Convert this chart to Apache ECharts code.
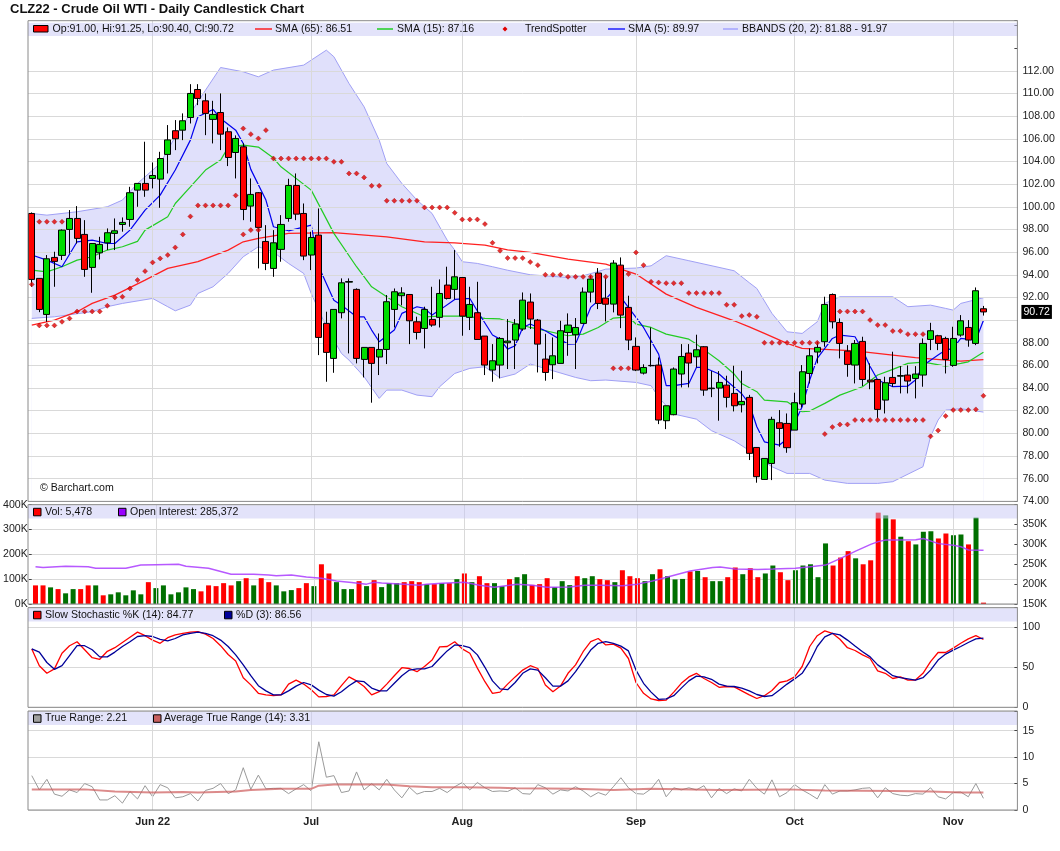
<!DOCTYPE html>
<html>
<head>
<meta charset="utf-8">
<style>
html,body{margin:0;padding:0;background:#fff;}
#chart{width:1060px;height:851px;}
</style>
</head>
<body>
<div id="chart"></div>
<script src="https://cdn.jsdelivr.net/npm/echarts/dist/echarts.min.js"></script>
<script type="text/javascript">
// trading days May 9 2022 .. Nov 7 2022 (127) + 4 empty days on the right
var holidays = ['2022-05-30', '2022-06-20', '2022-07-04', '2022-09-05'];
var dates = [];
(function () {
    var d = new Date(Date.UTC(2022, 4, 9));
    while (dates.length < 131) {
        var s = d.toISOString().slice(0, 10);
        if (d.getUTCDay() !== 0 && d.getUTCDay() !== 6 && holidays.indexOf(s) < 0) dates.push(s);
        d.setUTCDate(d.getUTCDate() + 1);
    }
})();
var monthIdx = [16, 37, 57, 80, 101, 122];
var monthLabels = ['Jun 22', 'Jul', 'Aug', 'Sep', 'Oct', 'Nov'];
var priceTicks = [76, 78, 80, 82, 84, 86, 88, 90, 92, 94, 96, 98, 100, 102, 104, 106, 108, 110, 112];
var lastPrice = 90.72;

var opens = [99.41,93.68,90.5,95.53,95.71,98.0,98.97,97.56,94.65,95.94,
96.82,97.65,98.44,98.88,101.47,102.06,102.5,102.44,104.62,106.71,
106.76,107.88,110.35,109.35,107.71,108.32,106.62,104.79,105.29,100.06,
101.24,96.94,94.56,96.24,98.97,101.88,99.41,95.74,97.5,89.71,
86.62,90.65,93.35,92.71,86.53,87.59,86.74,87.41,90.94,92.15,
92.26,89.85,89.26,90.06,90.24,93.09,92.71,93.76,90.24,90.65,
88.59,85.59,86.03,88.0,88.24,89.21,91.59,90.0,86.56,86.06,
86.18,88.91,88.71,89.71,92.47,94.15,91.94,91.41,94.85,91.12,
87.68,85.32,86.0,86.03,81.12,81.65,85.24,87.09,86.76,87.65,
83.95,84.0,84.26,83.53,82.53,83.18,78.76,75.94,77.35,80.94,
80.88,80.29,82.59,85.29,87.18,88.09,92.26,89.79,87.26,86.03,
88.12,84.7,84.76,82.94,84.94,85.05,85.15,84.85,85.15,88.29,
88.62,88.38,86.0,88.68,89.35,87.94,91.0];
var highs = [99.5,93.7,95.74,96.03,98.0,99.71,100.06,98.82,96.8,97.35,
98.09,98.97,99.06,101.76,102.06,105.74,103.91,104.85,107.21,107.65,
108.24,110.82,110.82,110.0,109.35,110.0,107.0,106.3,105.6,102.5,
101.3,98.38,97.94,99.26,102.47,102.94,100.29,97.79,99.85,90.74,
90.94,93.68,93.68,92.8,87.6,87.6,88.82,92.21,92.79,92.9,
92.3,90.3,91.18,92.94,93.59,94.71,96.18,93.8,92.94,93.38,
88.6,87.88,88.5,90.09,90.09,92.44,92.35,90.1,88.79,88.47,
89.94,90.59,90.18,92.88,93.91,94.59,93.76,95.29,95.53,92.15,
88.47,86.1,89.35,86.7,82.44,85.82,87.88,87.88,88.71,87.7,
85.5,85.5,85.09,85.97,85.53,83.4,78.8,77.8,81.47,82.06,
81.76,83.59,86.03,87.5,88.09,92.06,92.35,90.15,87.79,88.24,
88.53,86.18,84.8,85.0,87.21,85.94,86.0,85.94,88.38,89.76,
88.7,88.53,89.41,90.44,90.0,92.88,91.25];
var lows = [92.94,90.7,89.85,92.94,95.3,95.88,96.76,93.82,92.41,95.35,
96.18,96.18,97.8,98.24,100.0,100.88,101.62,99.91,102.94,105.0,
105.88,107.35,108.97,106.32,105.59,105.0,103.59,102.5,98.82,98.68,
94.56,94.41,93.82,95.15,98.68,98.82,95.29,94.41,86.91,84.56,
85.35,90.15,87.06,86.18,84.94,82.71,85.15,86.12,89.35,91.3,
87.88,88.29,87.5,89.41,89.35,91.82,91.82,88.62,89.12,88.29,
85.15,84.56,84.85,85.68,85.68,89.06,89.21,85.38,84.65,84.79,
86.18,86.85,85.68,89.7,91.56,90.97,89.88,90.68,89.29,87.35,
85.5,85.2,85.9,80.82,80.38,81.6,84.06,84.06,85.82,83.32,
83.2,81.12,82.29,81.94,81.85,77.65,75.65,75.9,75.88,78.82,
78.29,80.29,82.29,84.41,86.18,87.65,89.26,86.62,85.0,84.41,
84.18,83.9,81.32,81.76,84.12,83.53,83.53,83.09,84.12,87.35,
87.35,85.29,85.88,88.53,87.65,87.79,90.40];
var closes = [93.59,90.94,95.41,95.18,97.94,98.97,97.21,94.47,96.76,96.68,
97.71,97.88,98.62,101.24,102.06,101.47,102.76,104.26,105.9,106.0,
107.59,110.0,109.56,108.24,108.15,106.41,104.35,106.03,99.76,101.09,
98.18,95.0,96.82,98.44,101.88,99.35,95.65,97.29,88.47,87.15,
90.94,93.29,93.4,86.62,87.59,86.18,87.41,91.62,92.5,92.4,
89.94,88.91,90.94,89.56,92.35,91.91,93.82,90.35,91.38,88.29,
86.03,86.41,88.38,88.15,89.65,91.76,90.09,87.88,85.38,86.85,
89.06,89.56,89.35,92.47,93.62,91.47,91.4,95.03,90.44,88.24,
85.59,85.82,85.97,81.18,82.44,85.68,86.79,86.21,87.38,83.82,
84.0,84.5,83.18,82.44,82.82,78.24,76.18,77.79,81.24,80.44,
78.74,82.71,85.44,86.85,87.59,91.38,89.85,87.94,86.09,87.94,
84.76,84.55,82.12,84.47,84.4,85.1,84.62,85.24,87.94,89.06,
87.94,86.53,88.38,89.94,88.24,92.59,90.72];

// indicator lines as [day index, value]
var sma65 = [[0,89.56],[3,90.0],[6,90.74],[8,91.47],[11,92.21],[15,93.53],[18,94.56],[22,95.15],[26,96.18],[28,96.91],[30,97.21],[34,97.65],[40,97.71],[47,97.35],[52,96.91],[56,96.82],[60,96.62],[63,96.2],[66,95.97],[71,95.38],[76,94.94],[80,94.06],[84,92.29],[88,91.12],[93,89.94],[95,89.4],[97,88.82],[100,87.94],[102,87.5],[105,87.41],[109,87.29],[114,86.91],[117,86.68],[121,86.47],[123,86.38],[126,86.51]];
var sma15 = [[0,94.41],[2,94.26],[4,94.71],[6,95.29],[8,95.59],[10,96.18],[12,96.47],[14,96.95],[15,97.94],[18,99.12],[19,100.29],[21,101.76],[23,103.24],[25,104.12],[26,105.24],[28,105.44],[30,105.27],[32,104.3],[33,103.53],[37,101.47],[40,97.65],[43,94.71],[45,92.94],[47,92.06],[49,91.18],[52,90.29],[54,90.35],[57,90.35],[60,90.15],[62,90.1],[66,89.35],[71,88.62],[73,88.76],[75,89.35],[77,90.18],[79,90.29],[80,89.65],[82,89.35],[84,88.76],[87,88.32],[88,87.88],[91,86.41],[93,85.24],[94,84.41],[96,83.68],[97,82.94],[100,82.79],[102,81.91],[103,81.97],[105,82.65],[107,83.38],[110,84.12],[112,85.15],[114,85.65],[116,86.18],[118,86.29],[119,86.18],[121,85.94],[123,86.18],[124,86.32],[126,87.16]];
var sma5 = [[0,95.74],[2,95.29],[4,94.71],[6,96.91],[8,97.06],[10,96.76],[11,96.76],[13,97.94],[15,99.71],[17,101.03],[19,103.24],[21,105.88],[22,107.94],[24,108.59],[25,107.79],[27,106.76],[28,105.59],[29,103.3],[31,100.59],[32,98.24],[34,97.88],[37,98.38],[38,94.71],[40,91.76],[41,91.32],[43,90.29],[44,90.29],[45,89.12],[46,88.09],[48,89.12],[49,90.59],[51,91.18],[52,91.03],[53,90.44],[54,90.88],[56,91.82],[58,91.91],[59,90.8],[61,88.68],[62,88.32],[63,87.44],[64,87.74],[65,89.35],[66,89.65],[68,89.06],[71,87.88],[72,87.9],[73,89.5],[74,91.12],[75,91.71],[76,91.85],[77,92.59],[78,92.0],[79,91.12],[81,89.35],[83,87.0],[84,84.21],[85,84.21],[87,84.41],[88,85.82],[89,85.82],[91,85.24],[92,84.65],[94,83.5],[95,82.6],[96,80.59],[97,79.26],[99,78.97],[100,79.5],[102,82.35],[103,84.71],[104,86.62],[106,88.38],[107,88.68],[109,88.53],[110,87.35],[111,85.9],[112,84.71],[114,84.12],[116,84.18],[117,84.71],[118,86.0],[120,86.91],[121,87.35],[122,87.5],[123,88.38],[125,88.24],[126,89.97]];
var bbUpper = [[0,99.41],[2,99.26],[6,99.56],[10,100.0],[12,100.59],[14,102.06],[17,103.82],[19,106.18],[21,108.24],[23,110.29],[25,112.29],[28,111.91],[30,111.47],[32,112.06],[36,112.5],[39,113.82],[40,113.24],[42,110.88],[44,108.82],[46,105.88],[47,103.82],[49,102.06],[51,100.59],[53,99.41],[55,97.06],[56,96.18],[57,95.15],[59,95.0],[61,94.71],[63,94.4],[66,94.0],[71,93.76],[73,93.91],[75,94.29],[76,94.5],[80,94.59],[82,94.79],[84,95.68],[87,95.24],[91,94.65],[93,94.35],[95,93.3],[96,92.79],[98,90.59],[100,88.97],[102,88.82],[104,89.85],[105,91.47],[107,92.06],[114,92.06],[116,91.18],[119,91.32],[121,91.03],[122,90.88],[123,91.47],[126,91.97]];
var bbLower = [[0,90.15],[3,90.29],[8,90.74],[10,91.18],[12,91.47],[16,91.91],[18,91.18],[19,90.82],[21,91.32],[22,92.35],[24,92.94],[26,94.12],[28,95.59],[30,96.47],[32,96.0],[34,95.0],[36,94.12],[37,92.35],[39,89.41],[41,87.06],[42,86.47],[44,85.0],[46,83.09],[47,83.82],[49,83.82],[51,83.38],[53,83.24],[54,84.12],[56,85.29],[58,85.74],[60,85.88],[62,84.9],[64,85.24],[66,86.12],[69,85.53],[72,84.94],[74,84.65],[76,84.71],[80,84.5],[82,84.21],[83,83.18],[85,81.71],[88,81.26],[90,80.24],[93,79.35],[95,78.5],[96,77.94],[98,77.06],[100,76.47],[103,76.47],[105,75.88],[108,75.59],[112,75.59],[114,75.74],[118,77.06],[119,79.71],[120,81.18],[121,82.06],[123,82.18],[126,81.88]];
var tsAbove = [[1,98.68],[2,98.68],[3,98.68],[4,98.68],[28,106.91],[29,106.41],[30,106.03],[31,106.76],[32,104.26],[33,104.26],[34,104.26],[35,104.26],[36,104.26],[37,104.26],[38,104.26],[39,104.26],[40,103.97],[41,103.97],[42,102.94],[43,102.94],[44,102.59],[45,101.85],[46,101.85],[47,100.53],[48,100.53],[49,100.53],[50,100.53],[51,100.53],[52,99.94],[53,99.94],[54,99.94],[55,99.94],[56,99.47],[57,98.88],[58,98.88],[59,98.88],[60,98.47],[61,96.82],[62,96.12],[63,95.47],[64,95.47],[65,95.47],[66,95.12],[67,94.85],[68,94.0],[69,94.0],[70,94.0],[71,93.82],[72,93.82],[73,93.82],[74,93.82],[75,93.82],[76,93.82],[79,94.06],[80,95.97],[81,94.85],[82,93.38],[83,93.32],[84,93.26],[85,93.26],[86,93.26],[87,92.38],[88,92.38],[89,92.38],[90,92.38],[91,92.38],[92,91.35],[93,91.35],[94,90.35],[95,90.45],[96,90.29],[97,88.0],[98,88.0],[99,88.0],[100,88.0],[101,88.0],[102,88.0],[103,88.0],[104,88.0],[107,90.76],[108,90.76],[109,90.76],[110,90.76],[111,90.0],[112,89.56],[113,89.56],[114,89.03],[115,89.03],[116,88.76],[117,88.76],[118,88.76]];
var tsBelow = [[0,93.15],[1,89.53],[2,89.53],[3,89.53],[4,89.85],[5,90.15],[6,90.76],[7,90.76],[8,90.76],[9,90.76],[10,91.26],[11,92.0],[12,92.06],[13,92.79],[14,93.53],[15,94.32],[16,95.09],[17,95.44],[18,95.74],[19,96.41],[20,97.56],[21,99.15],[22,100.12],[23,100.12],[24,100.12],[25,100.12],[26,100.12],[27,101.0],[28,97.56],[29,97.94],[30,97.94],[77,85.74],[78,85.74],[79,85.74],[105,79.94],[106,80.56],[107,80.79],[108,80.79],[109,81.18],[110,81.18],[111,81.18],[112,81.18],[113,81.18],[114,81.18],[115,81.18],[116,81.18],[117,81.18],[118,81.18],[119,79.74],[120,80.26],[121,81.53],[122,82.06],[123,82.06],[124,82.06],[125,82.12],[126,83.32]];

// volume and open interest, thousands
var volume = [75,75,67,60,43,60,60,75,75,35,
39,47,35,55,39,88,64,75,39,47,
67,60,51,75,72,84,75,92,104,75,
104,88,75,51,56,64,84,72,160,123,
88,60,60,92,72,96,68,84,84,88,
92,88,80,80,84,84,100,123,88,112,
84,84,72,100,108,120,77,80,104,68,
92,76,112,104,112,100,96,88,136,112,
104,92,120,140,112,99,101,131,133,108,
92,92,108,147,120,144,108,123,155,128,
96,136,155,160,108,244,155,187,213,184,
160,176,368,357,341,271,253,240,291,293,
264,284,277,280,240,348,5.478];
var openInterest = [[0,244],[1,242],[4,245],[7,244],[8,240],[12,240],[14,248],[16,249],[19,250],[20,245],[23,240],[26,225],[29,225],[31,223],[32,221],[34,223],[36,218],[38,215],[40,208],[42,204],[44,200],[45,205],[46,203],[49,200],[51,197],[52,200],[54,202],[57,205],[59,197],[61,192],[63,197],[64,200],[66,197],[68,192],[71,193],[73,197],[75,197],[78,196],[80,200],[82,208],[84,218],[87,233],[90,242],[91,243],[93,238],[96,237],[98,238],[101,240],[103,244],[105,248],[107,265],[109,283],[111,300],[112,307],[113,311],[114,311],[117,312],[118,315],[120,302],[122,298],[123,294],[124,286],[126,285.4]];

var stochK = [73,52,42.5,48,67.5,77,82,72,62,60,
70,74.5,81,87.5,94,89.5,84,80,87,90.5,
92.5,94,94.5,91.5,86,77,66,58,37,28,
17.5,15.5,14.5,15.5,29,34,29,22,13,13.5,
15.5,27,38,33,26,15.5,19.5,29,39.5,49.5,
48.5,44.5,51,59,75.5,76,82,73,67.5,49,
32,17.5,19,29,38,46.5,52,48.5,28,19.5,
26.5,42.5,53,69.5,82,86,78,79,74,61,
31,17.5,10.5,8.5,9,19,30,38,42.5,36,
31,25,26,25.5,20.5,15.5,11,14.5,21,31,
33,38,51,76,89.5,95.5,92.5,85,74.5,71,
65.5,61,45.5,42.5,36,38,34,34,42.5,57,
68.5,68.5,74,80,85.5,89.5,84.77];
var stochD = [73,69,56,47.5,52,64.5,77,77,72,63,
63,69,76,82,88.5,89.5,88.5,85,83,86,
90.5,92.5,94,92.5,89.5,84,76,65.5,53,39.5,
27,20.5,15.5,15.5,20.5,26.5,31,28,21.5,16,
14,19.5,27,33,32,24,20.5,20.5,30,39.5,
46.5,48,48,51,61,70.5,78,77,74.5,65.5,
50,33,23,22,31,42.5,48,46.5,37,26.5,
26.5,33,44.5,58,71.5,80,82,80,76.5,70.5,
46.5,30,19,10,10.5,14.5,24,33,39,38,
35,29,26.5,26,24,20.5,16,13.5,14.5,21.5,
29,35.5,42.5,57,76,88,92.5,90.5,84,76.5,
69.5,63,53,46.5,39.5,37,35.5,34,37,46.5,
59,66.5,71.5,76,81,85.5,86.56];
var trueRange = [6.5,3.8,5.8,3.0,2.6,3.8,3.3,5.0,4.4,1.9,
1.9,2.7,1.3,3.5,2.1,4.6,2.5,4.8,4.2,2.3,
2.5,3.1,1.7,3.7,4.1,5.0,3.1,3.8,8.0,3.9,
6.6,4.0,4.1,4.1,3.1,4.0,4.8,3.6,12.9,6.2,
6.5,3.3,3.6,7.2,3.8,5.0,3.8,5.8,3.8,2.3,
4.3,3.0,3.5,3.5,4.1,3.3,4.4,5.2,3.8,5.2,
4.2,3.5,3.6,3.5,4.2,3.1,3.0,4.8,4.2,3.0,
3.8,3.6,4.4,3.6,2.5,3.3,2.8,4.4,6.1,4.2,
3.1,3.0,4.0,5.8,2.5,4.2,3.8,4.2,3.8,4.6,
2.3,4.1,3.1,4.0,3.6,5.8,4.1,3.0,5.7,2.5,
3.3,4.8,3.8,3.0,2.1,4.8,3.0,3.6,3.6,3.8,
4.1,4.2,2.3,4.2,3.1,2.8,2.7,3.1,3.0,4.2,
2.5,2.1,3.3,3.4,2.5,5.0,2.21];
var atr = [[0,3.9],[7,3.9],[11,3.5],[16,3.3],[20,3.4],[22,3.3],[27,3.5],[29,3.8],[33,4.0],[37,4.0],[38,4.6],[40,4.8],[44,4.8],[47,4.8],[50,4.5],[53,4.3],[57,4.3],[62,4.2],[64,4.1],[72,4.0],[77,3.8],[82,4.0],[91,3.8],[100,3.9],[105,3.7],[114,3.6],[119,3.5],[123,3.3],[126,3.31]];

var FONT = "'Liberation Sans', Arial, sans-serif";
var LF = 10.6;
var L = 28, W = 989.4;
var panels = [
    {top: 20.7, bottom: 501.4},
    {top: 504.7, bottom: 604},
    {top: 607.7, bottom: 707.3},
    {top: 711, bottom: 810}
];

var candleData = opens.map(function (o, i) { return [o, closes[i], lows[i], highs[i]]; });
var monthLines = monthIdx.map(function (i) { return {xAxis: dates[i]}; });

function gridLines(extra) {
    return {
        silent: true, symbol: ['none', 'none'], animation: false,
        label: {show: false},
        lineStyle: {color: '#d9d9d9', width: 1, type: 'solid'},
        emphasis: {disabled: true},
        data: monthLines.concat(extra || [])
    };
}
function helper(xi, yi, data) {
    return {type: 'line', xAxisIndex: xi, yAxisIndex: yi, data: data, symbol: 'none', silent: true,
        lineStyle: {opacity: 0}, z: 3, markLine: gridLines([])};
}
function line(name, xi, yi, data, color, width, z) {
    return {name: name, type: 'line', xAxisIndex: xi, yAxisIndex: yi, data: data, symbol: 'none',
        silent: true, z: z || 4, lineStyle: {color: color, width: width}};
}

var xAxes = panels.map(function (p, k) {
    return {
        type: 'category', gridIndex: k, data: dates, boundaryGap: true,
        axisLine: {show: false}, axisTick: {show: false}, splitLine: {show: false},
        axisLabel: k < 3 ? {show: false} : {
            show: true, margin: 6, color: '#222', fontFamily: FONT, fontSize: 11, fontWeight: 'bold',
            interval: function (idx) { return monthIdx.indexOf(idx) >= 0; },
            formatter: function (v, idx) { var m = monthIdx.indexOf(idx); return m >= 0 ? monthLabels[m] : ''; }
        }
    };
});

function rightAxis(k, min, max, interval, fmt, split) {
    return {
        type: 'value', gridIndex: k, position: 'right', min: min, max: max, interval: interval,
        axisLine: {show: false},
        axisTick: {show: true, inside: true, length: 3, lineStyle: {color: '#444'}},
        axisLabel: {margin: 5, color: '#222', fontFamily: FONT, fontSize: LF, formatter: fmt},
        splitLine: {show: split, lineStyle: {color: '#d9d9d9'}}
    };
}
var yAxes = [
    rightAxis(0, 74, 116.42, 2, function (v) { return (v > 112.001 || Math.abs(v - 90) < 0.001) ? '' : v.toFixed(2); }, false),
    {
        type: 'value', gridIndex: 1, position: 'left', min: 0, max: 400, interval: 100,
        axisLine: {show: false},
        axisTick: {show: true, length: 3, lineStyle: {color: '#444'}},
        axisLabel: {margin: 4, color: '#222', fontFamily: FONT, fontSize: LF, formatter: function (v) { return v + 'K'; }},
        splitLine: {show: true, lineStyle: {color: '#d9d9d9'}}
    },
    rightAxis(1, 150, 400, 50, function (v) { return v > 350.001 ? '' : v + 'K'; }, false),
    rightAxis(2, 0, 124.5, 50, function (v) { return v > 100.001 ? '' : String(v); }, true),
    rightAxis(3, 0, 18.72, 5, function (v) { return v > 15.001 ? '' : String(v); }, true)
];

var series = [
    {type: 'line', xAxisIndex: 0, yAxisIndex: 0, data: bbUpper, symbol: 'none', silent: true, z: 1,
        lineStyle: {color: '#a0a0f5', width: 1},
        areaStyle: {color: 'rgba(135,135,240,0.37)', origin: 'start'}},
    {type: 'line', xAxisIndex: 0, yAxisIndex: 0, data: bbLower, symbol: 'none', silent: true, z: 2,
        lineStyle: {color: '#a0a0f5', width: 1},
        areaStyle: {color: '#ffffff', opacity: 1, origin: 'start'}},
    {type: 'line', xAxisIndex: 0, yAxisIndex: 0, data: closes, symbol: 'none', silent: true,
        lineStyle: {opacity: 0}, z: 3,
        markLine: gridLines(priceTicks.map(function (v) { return {yAxis: v}; }))},
    line('SMA65', 0, 0, sma65, '#ff2020', 1.3),
    line('SMA15', 0, 0, sma15, '#22cc22', 1.2),
    line('SMA5', 0, 0, sma5, '#0000ee', 1.2),
    {
        type: 'candlestick', xAxisIndex: 0, yAxisIndex: 0, data: candleData, barWidth: 6.6, z: 5, silent: true,
        itemStyle: {color: '#00dd00', color0: '#ff0000', borderColor: '#000', borderColor0: '#000', borderWidth: 1}
    },
    // last price marker on the right axis
    {
        type: 'line', xAxisIndex: 0, yAxisIndex: 0, data: [], symbol: 'none', silent: true, z: 8,
        markLine: {
            silent: true, symbol: ['none', 'none'], animation: false,
            lineStyle: {color: 'rgba(0,0,0,0)', width: 0},
            label: {show: true, position: 'end', distance: 4, formatter: lastPrice.toFixed(2), color: '#fff',
                backgroundColor: '#000', padding: [2, 2, 1, 2], fontFamily: FONT, fontSize: LF},
            data: [{yAxis: lastPrice}]
        }
    },
    {type: 'scatter', xAxisIndex: 0, yAxisIndex: 0, data: tsAbove, symbol: 'diamond', symbolSize: 5, z: 6,
        silent: true, itemStyle: {color: '#e00000', borderColor: '#a00000', borderWidth: 0.5}},
    {type: 'scatter', xAxisIndex: 0, yAxisIndex: 0, data: tsBelow, symbol: 'diamond', symbolSize: 5, z: 6,
        silent: true, itemStyle: {color: '#e00000', borderColor: '#a00000', borderWidth: 0.5}},

    helper(1, 1, volume),
    {
        type: 'bar', xAxisIndex: 1, yAxisIndex: 1, data: volume, barWidth: 5, z: 4, silent: true,
        itemStyle: {
            color: function (p) {
                var i = p.dataIndex;
                var up = i === 0 ? closes[0] >= opens[0] : closes[i] >= closes[i - 1];
                return up ? '#007000' : '#ff0000';
            }
        }
    },
    line('OI', 1, 2, openInterest, 'rgba(170,60,255,0.85)', 1.5, 5),

    helper(2, 3, stochK),
    line('K', 2, 3, stochK, '#ff0000', 1.3),
    line('D', 2, 3, stochD, '#000099', 1.3),

    helper(3, 4, trueRange),
    line('TR', 3, 4, trueRange, '#9a9a9a', 1),
    line('ATR', 3, 4, atr, 'rgba(205,90,90,0.7)', 2, 5)
];

// legend bands, panel borders and texts
var gfx = [];
function txt(x, y, s, size, weight) {
    gfx.push({type: 'text', x: x, y: y, z: 120,
        style: {text: s, fill: '#111', font: (weight || 'normal') + ' ' + (size || LF) + 'px ' + FONT,
            verticalAlign: 'middle', textVerticalAlign: 'middle'}});
}
function sq(x, y, w, h, fill) {
    gfx.push({type: 'rect', z: 120, shape: {x: x, y: y, width: w, height: h},
        style: {fill: fill, stroke: '#000', lineWidth: 1}});
}
function seg(x1, x2, y, color) {
    gfx.push({type: 'line', z: 120, shape: {x1: x1, y1: y, x2: x2, y2: y}, style: {stroke: color, lineWidth: 1.3}});
}
var bandOff = [2, 0.6, 0.6, 0.7];
panels.forEach(function (p, k) {
    gfx.push({type: 'rect', z: 100, shape: {x: L, y: p.top + bandOff[k], width: W, height: 13.3},
        style: {fill: 'rgba(200,200,245,0.5)'}});
    gfx.push({type: 'rect', z: 110, shape: {x: L, y: p.top, width: W, height: p.bottom - p.top},
        style: {fill: 'none', stroke: '#8a8a8a', lineWidth: 1}});
});
txt(10, 9, 'CLZ22 - Crude Oil WTI - Daily Candlestick Chart', 13, 'bold');

sq(33.5, 25.5, 14.5, 6.5, '#ff0000');
txt(52.5, 29, 'Op:91.00, Hi:91.25, Lo:90.40, Cl:90.72');
seg(255, 272, 29, '#ff0000');
txt(275, 29, 'SMA (65): 86.51');
seg(377, 393, 29, '#00cc00');
txt(397, 29, 'SMA (15): 87.16');
gfx.push({type: 'polygon', z: 120, shape: {points: [[505, 26.5], [507.5, 29], [505, 31.5], [502.5, 29]]}, style: {fill: '#e00000'}});
txt(525, 29, 'TrendSpotter');
seg(608, 625, 29, '#0000ff');
txt(628, 29, 'SMA (5): 89.97');
seg(723, 738, 29, '#9999ff');
txt(742, 29, 'BBANDS (20, 2): 81.88 - 91.97');

sq(33.5, 508.3, 7.5, 7.5, '#ff0000');
txt(45, 512, 'Vol: 5,478');
sq(118.5, 508.3, 7.5, 7.5, '#9900ff');
txt(130, 512, 'Open Interest: 285,372');

sq(33.5, 611.3, 7.5, 7.5, '#ff0000');
txt(45, 615, 'Slow Stochastic %K (14): 84.77');
sq(224.5, 611.3, 7.5, 7.5, '#000099');
txt(236, 615, '%D (3): 86.56');

sq(33.5, 714.8, 7.5, 7.5, '#a0a0a0');
txt(45, 718.5, 'True Range: 2.21');
sq(153.5, 714.8, 7.5, 7.5, '#c86060');
txt(164, 718.5, 'Average True Range (14): 3.31');

txt(40, 488, '\u00a9 Barchart.com', LF);

var chart = echarts.init(document.getElementById('chart'));
chart.setOption({
    animation: false,
    backgroundColor: '#ffffff',
    grid: panels.map(function (p) {
        return {left: L, top: p.top, width: W, height: p.bottom - p.top, show: false};
    }),
    xAxis: xAxes,
    yAxis: yAxes,
    series: series,
    graphic: gfx
});
</script>
</body>
</html>
